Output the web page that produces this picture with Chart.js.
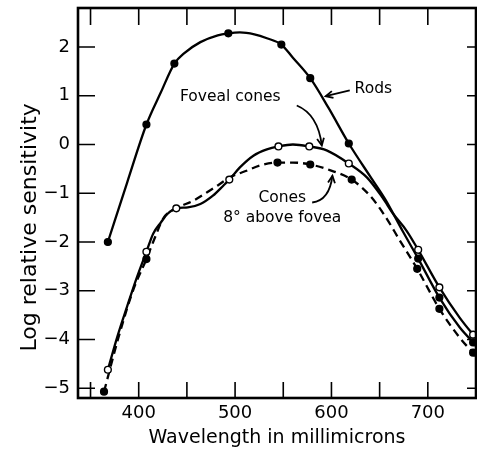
<!DOCTYPE html>
<html>
<head>
<meta charset="utf-8">
<script src="https://cdn.jsdelivr.net/npm/chart.js@4/dist/chart.umd.min.js"></script>
<style>
html,body{margin:0;padding:0;background:#fff;}
canvas{display:block;}
</style>
</head>
<body>
<canvas id="c" width="477" height="452"></canvas>
<script>
// ---- Data ----
const xTickValues = [350, 400, 450, 500, 550, 600, 650, 700, 750];
const xTickLabels = ['', '400', '', '500', '', '600', '', '700', ''];
const yTickValues = [-5, -4, -3, -2, -1, 0, 1, 2];

// Traced curves (wavelength nm, log relative sensitivity)
const rodsCurveNm  = [368, 388, 408, 423, 437, 447, 464, 482, 493, 505, 520, 533, 548, 560, 578, 597, 618, 640, 656, 674, 690, 712, 733, 750];
const rodsCurveLog = [-2.0, -0.78, 0.41, 1.07, 1.66, 1.87, 2.1, 2.24, 2.28, 2.3, 2.26, 2.18, 2.05, 1.78, 1.36, 0.75, 0.02, -0.65, -1.13, -1.78, -2.34, -3.14, -3.75, -4.12];

const fovealCurveNm  = [368, 378, 388, 398, 408, 415, 423, 430, 439, 451, 464, 477, 488, 494, 505, 519, 533, 545, 560, 577, 595, 618, 637, 653, 664, 678, 690, 712, 733, 747, 750];
const fovealCurveLog = [-4.62, -3.93, -3.32, -2.73, -2.2, -1.83, -1.6, -1.42, -1.31, -1.29, -1.22, -1.05, -0.84, -0.72, -0.47, -0.23, -0.1, -0.04, 0.0, -0.04, -0.12, -0.39, -0.68, -1.09, -1.42, -1.77, -2.16, -2.93, -3.55, -3.9, -3.97];

const periCurveNm  = [364, 379, 394, 408, 416, 426, 439, 457, 471, 482, 494, 513, 526, 544, 560, 578, 599, 621, 640, 655, 671, 689, 712, 733, 747, 750];
const periCurveLog = [-5.07, -3.96, -3.0, -2.35, -1.95, -1.5, -1.31, -1.15, -0.98, -0.84, -0.68, -0.53, -0.43, -0.37, -0.37, -0.41, -0.53, -0.72, -1.05, -1.45, -1.97, -2.55, -3.37, -3.96, -4.27, -4.33];

// Measured points (markers)
const rodsDotNm  = [368, 408, 437, 493, 548, 578, 618, 690, 712, 747];
const rodsDotLog = [-2.0, 0.41, 1.66, 2.28, 2.05, 1.36, 0.02, -2.34, -3.14, -4.06];
const fovealDotNm  = [368, 408, 439, 494, 545, 577, 618, 690, 712, 747];
const fovealDotLog = [-4.62, -2.2, -1.31, -0.72, -0.04, -0.04, -0.39, -2.16, -2.93, -3.9];
const periDotNm  = [364, 408, 544, 578, 621, 689, 712, 747];
const periDotLog = [-5.07, -2.35, -0.37, -0.41, -0.72, -2.55, -3.37, -4.27];

const xTitle = 'Wavelength in millimicrons';
const yTitle = 'Log relative sensitivity';

// ---- build ----
const pts = (xs, ys) => xs.map((v, i) => ({x: v, y: ys[i]}));
const FONT = "'DejaVu Sans', sans-serif";

const annot = {
  id: 'annot',
  afterDraw(chart) {
    const {ctx, chartArea: a, scales: {x, y}} = chart;
    const X = v => x.getPixelForValue(v), Y = v => y.getPixelForValue(v);
    ctx.save();
    ctx.strokeStyle = '#000';
    ctx.fillStyle = '#000';
    // frame
    ctx.lineWidth = 2.6;
    ctx.strokeRect(a.left, a.top, a.right - a.left, a.bottom - a.top);
    // inward ticks
    ctx.lineWidth = 1.6;
    ctx.beginPath();
    x.ticks.forEach(t => {
      const px = X(t.value);
      ctx.moveTo(px, a.bottom); ctx.lineTo(px, a.bottom - 16);
      ctx.moveTo(px, a.top); ctx.lineTo(px, a.top + 17);
    });
    y.ticks.forEach(t => {
      const py = Y(t.value);
      ctx.moveTo(a.left, py); ctx.lineTo(a.left + 17, py);
      ctx.moveTo(a.right, py); ctx.lineTo(a.right - 9, py);
    });
    ctx.stroke();

    // y axis title (placed like the reference, slightly below centre)
    ctx.save();
    ctx.font = '22px ' + FONT;
    ctx.textAlign = 'center';
    ctx.textBaseline = 'middle';
    ctx.translate(a.left - 48, Y(-1.7));
    ctx.rotate(-Math.PI / 2);
    ctx.fillText(yTitle, 0, 0);
    ctx.restore();

    // labels
    ctx.font = '15.5px ' + FONT;
    ctx.textBaseline = 'middle';
    ctx.textAlign = 'center';
    ctx.fillText('Foveal cones', X(495), Y(0.97));
    ctx.fillText('Cones', X(549), Y(-1.09));
    ctx.fillText('8\u00b0 above fovea', X(549), Y(-1.5));
    ctx.textAlign = 'left';
    ctx.fillText('Rods', X(624), Y(1.13));

    const head = (tx, ty, fx, fy) => {
      const ang = Math.atan2(ty - fy, tx - fx);
      const L = 8, w = 0.45;
      ctx.beginPath();
      ctx.moveTo(tx - L * Math.cos(ang - w), ty - L * Math.sin(ang - w));
      ctx.lineTo(tx, ty);
      ctx.lineTo(tx - L * Math.cos(ang + w), ty - L * Math.sin(ang + w));
      ctx.stroke();
    };
    ctx.lineWidth = 1.8;
    // Rods arrow
    ctx.beginPath();
    ctx.moveTo(X(619), Y(1.11)); ctx.lineTo(X(594), Y(0.99));
    ctx.stroke();
    head(X(594), Y(0.99), X(619), Y(1.11));
    // Foveal cones arrow
    ctx.beginPath();
    ctx.moveTo(X(564), Y(0.8));
    ctx.quadraticCurveTo(X(586), Y(0.62), X(590), Y(-0.02));
    ctx.stroke();
    head(X(590), Y(-0.02), X(587), Y(0.3));
    // Cones 8 deg arrow
    ctx.beginPath();
    ctx.moveTo(X(580), Y(-1.19));
    ctx.quadraticCurveTo(X(598), Y(-1.15), X(601), Y(-0.64));
    ctx.stroke();
    head(X(601), Y(-0.64), X(599), Y(-0.95));
    ctx.restore();
  }
};

const lineDs = (data, dash) => ({
  data, showLine: true, borderColor: '#000', borderWidth: 2.3,
  borderDash: dash || [], pointRadius: 0, tension: 0.4,
  cubicInterpolationMode: 'monotone', fill: false
});
const dotDs = (data, filled) => ({
  data, showLine: false, pointRadius: 3.4, pointBorderWidth: 1.4,
  pointBorderColor: '#000', pointBackgroundColor: filled ? '#000' : '#fff'
});

new Chart(document.getElementById('c'), {
  type: 'scatter',
  data: {
    datasets: [
      dotDs(pts(fovealDotNm, fovealDotLog), false),
      dotDs(pts(rodsDotNm, rodsDotLog), true),
      dotDs(pts(periDotNm, periDotLog), true),
      lineDs(pts(rodsCurveNm, rodsCurveLog)),
      lineDs(pts(fovealCurveNm, fovealCurveLog)),
      lineDs(pts(periCurveNm, periCurveLog), [8, 5])
    ]
  },
  options: {
    responsive: false,
    devicePixelRatio: 1,
    animation: false,
    layout: {autoPadding: false, padding: {top: 8, right: 1, left: 0, bottom: 0}},
    plugins: {legend: {display: false}, tooltip: {enabled: false}},
    scales: {
      x: {
        type: 'linear', position: 'bottom', min: 337, max: 750,
        afterBuildTicks: s => { s.ticks = xTickValues.map(v => ({value: v})); },
        afterFit: s => { s.height = 54; s.paddingLeft = 0; s.paddingRight = 0; },
        grid: {display: false, drawTicks: false},
        border: {display: false},
        ticks: {
          color: '#000', padding: 5, maxRotation: 0, autoSkip: false,
          font: {family: FONT, size: 18},
          callback: v => xTickLabels[xTickValues.indexOf(v)] ?? ''
        },
        title: {display: true, text: xTitle, color: '#000',
          font: {family: FONT, size: 19}, padding: {top: 0, bottom: 3}}
      },
      y: {
        type: 'linear', position: 'left', min: -5.2, max: 2.8,
        afterBuildTicks: s => { s.ticks = yTickValues.map(v => ({value: v})); },
        afterFit: s => { s.width = 78; s.paddingTop = 0; s.paddingBottom = 0; },
        grid: {display: false, drawTicks: false},
        border: {display: false},
        ticks: {
          color: '#000', padding: 8, autoSkip: false,
          font: {family: FONT, size: 18},
          callback: v => v < 0 ? '\u2212' + Math.abs(v) : String(v)
        },
        title: {display: false}
      }
    }
  },
  plugins: [annot]
});
</script>
</body>
</html>
